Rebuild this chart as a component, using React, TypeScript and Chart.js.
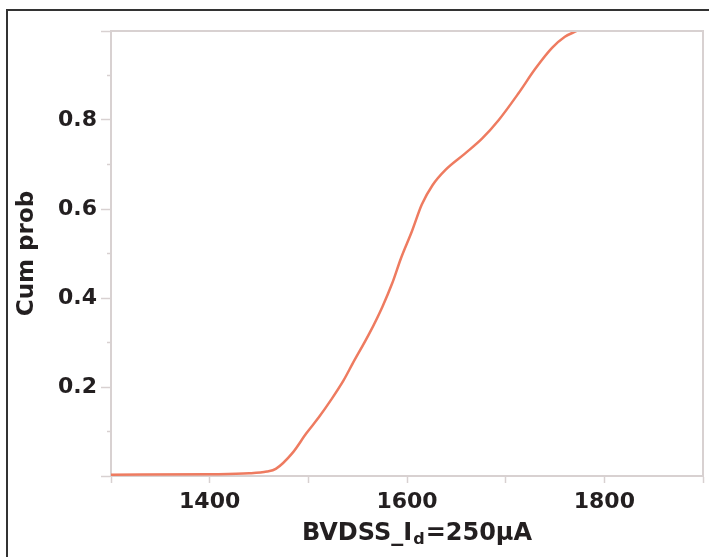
import React, { useEffect, useRef } from "react";
import { Chart, registerables } from "chart.js";

Chart.register(...registerables);

// Data
const xValues = [1300, 1400, 1440, 1458, 1467, 1484, 1498, 1511, 1523, 1536, 1545, 1562, 1575, 1585, 1594, 1605, 1615, 1626, 1639, 1659, 1676, 1693, 1713, 1730, 1747, 1760, 1772];
const cumProb = [0.003, 0.004, 0.006, 0.01, 0.016, 0.052, 0.096, 0.133, 0.171, 0.216, 0.253, 0.321, 0.38, 0.433, 0.49, 0.55, 0.61, 0.654, 0.688, 0.725, 0.758, 0.8, 0.86, 0.915, 0.962, 0.987, 1.0];
const xTickLabels = [1400, 1600, 1800];
const yTickLabels = [0.2, 0.4, 0.6, 0.8];
const xTitleMain = "BVDSS_I";
const xTitleSub = "d";
const xTitleEnd = "=250\u03bcA";
const yTitle = "Cum prob";

const FONT = '"DejaVu Sans", Verdana, sans-serif';
const TEXT = "#231f20";
const AXIS = "#d8d1d1";
const LINE = "#ee7b60";

const decor = {
  id: "decor",
  beforeDraw(chart: any) {
    const ctx = chart.ctx;
    ctx.save();
    ctx.fillStyle = "#fff";
    ctx.fillRect(0, 0, chart.width, chart.height);
    ctx.fillStyle = "#333";
    ctx.fillRect(6, 9, 2, chart.height - 9);
    ctx.fillRect(6, 9, chart.width - 6, 2);
    ctx.restore();
  },
  afterDraw(chart: any) {
    const ctx = chart.ctx;
    const { left, right, top, bottom } = chart.chartArea;
    const y = chart.scales.y;
    ctx.save();
    ctx.strokeStyle = AXIS;
    ctx.lineWidth = 2;
    ctx.beginPath();
    ctx.moveTo(left, top);
    ctx.lineTo(right, top);
    ctx.lineTo(right, bottom);
    ctx.stroke();
    // minor y ticks
    ctx.lineWidth = 1.5;
    y.ticks.forEach((t: any) => {
      const k = Math.round(t.value * 10);
      if (k % 2 === 1) {
        const py = y.getPixelForValue(t.value);
        ctx.beginPath();
        ctx.moveTo(left - 4, py);
        ctx.lineTo(left, py);
        ctx.stroke();
      }
    });
    // x title with subscript
    const big = `bold 24px ${FONT}`;
    const small = `bold 16px ${FONT}`;
    ctx.fillStyle = TEXT;
    ctx.textBaseline = "alphabetic";
    ctx.textAlign = "left";
    ctx.font = big;
    const w1 = ctx.measureText(xTitleMain).width;
    const w3 = ctx.measureText(xTitleEnd).width;
    ctx.font = small;
    const w2 = ctx.measureText(xTitleSub).width;
    const total = w1 + w2 + w3 + 2;
    const cx = (left + right) / 2 + 10;
    let x = cx - total / 2;
    const base = 540;
    ctx.font = big;
    ctx.fillText(xTitleMain, x, base);
    x += w1 + 1;
    ctx.font = small;
    ctx.fillText(xTitleSub, x, base + 4);
    x += w2 + 1;
    ctx.font = big;
    ctx.fillText(xTitleEnd, x, base);
    ctx.restore();
  },
};

export default function App() {
  const ref = useRef<HTMLCanvasElement | null>(null);
  useEffect(() => {
    document.body.style.margin = "0";
    const canvas = ref.current;
    if (!canvas) return;
    const chart = new Chart(canvas, {
      type: "line",
      data: {
        datasets: [
          {
            data: xValues.map((x, i) => ({ x, y: cumProb[i] })),
            borderColor: LINE,
            borderWidth: 2.5,
            pointRadius: 0,
            cubicInterpolationMode: "monotone",
            fill: false,
          },
        ],
      },
      options: {
        animation: false,
        responsive: false,
        events: [],
        layout: { padding: { left: 0, top: 31, right: 4, bottom: 0 } },
        plugins: { legend: { display: false }, tooltip: { enabled: false }, title: { display: false } },
        scales: {
          x: {
            type: "linear",
            min: 1300,
            max: 1900,
            afterFit: (s: any) => {
              s.height = 81;
            },
            border: { color: AXIS, width: 2 },
            grid: { drawOnChartArea: false, drawTicks: true, tickLength: 7, tickColor: AXIS, tickWidth: 1.5 },
            ticks: {
              stepSize: 100,
              autoSkip: false,
              maxRotation: 0,
              padding: 6,
              color: TEXT,
              font: { family: FONT, weight: "bold", size: 22 },
              callback: (v: any) => (xTickLabels.includes(Math.round(Number(v))) ? String(Math.round(Number(v))) : ""),
            },
          },
          y: {
            type: "linear",
            min: 0,
            max: 1,
            afterFit: (s: any) => {
              s.width = 111;
            },
            border: { color: AXIS, width: 2 },
            grid: {
              drawOnChartArea: false,
              drawTicks: true,
              tickLength: 10,
              tickWidth: 1.5,
              tickColor: (c: any) => (Math.round((c.tick?.value ?? 0) * 10) % 2 === 0 ? AXIS : "rgba(0,0,0,0)"),
            },
            title: {
              display: true,
              text: yTitle,
              color: TEXT,
              font: { family: FONT, weight: "bold", size: 23 },
              padding: { top: 13, bottom: 0 },
            },
            ticks: {
              stepSize: 0.1,
              autoSkip: false,
              padding: 4,
              color: TEXT,
              font: { family: FONT, weight: "bold", size: 22 },
              callback: (v: any) => {
                const n = Math.round(Number(v) * 10) / 10;
                return yTickLabels.includes(n) ? n.toFixed(1) : "";
              },
            },
          },
        },
      },
      plugins: [decor],
    });
    return () => chart.destroy();
  }, []);
  return <canvas ref={ref} width={709} height={557} style={{ display: "block" }} />;
}
